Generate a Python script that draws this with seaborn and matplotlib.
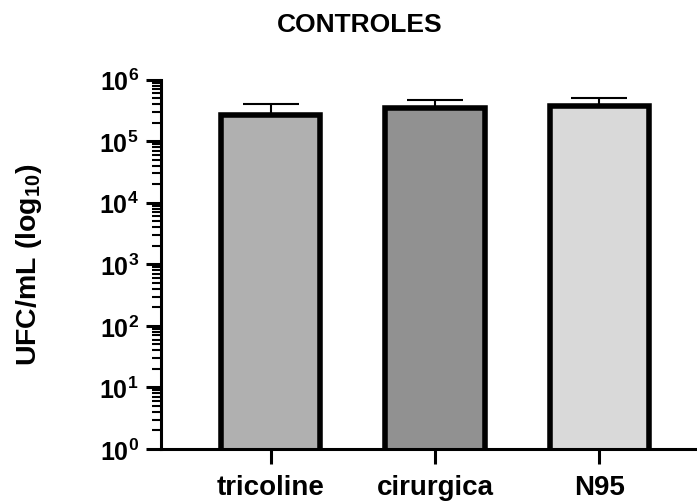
import matplotlib
matplotlib.use("Agg")
import matplotlib.pyplot as plt
import seaborn as sns
import numpy as np
from matplotlib.ticker import LogLocator, FixedLocator, NullFormatter

categories = ["tricoline", "cirurgica", "N95"]
means = [2.67e5, 3.53e5, 3.67e5]
errors_upper = [1.36e5, 1.15e5, 1.38e5]
bar_colors = ["#b0b0b0", "#919191", "#d9d9d9"]
y_ticks = [1e0, 1e1, 1e2, 1e3, 1e4, 1e5, 1e6]
y_tick_labels = ["$10^{0}$", "$10^{1}$", "$10^{2}$", "$10^{3}$", "$10^{4}$", "$10^{5}$", "$10^{6}$"]
title = "CONTROLES"
ylabel = "UFC/mL (log$_{10}$)"

sns.set_theme(style="ticks")
plt.rcParams["font.family"] = ["Liberation Sans", "DejaVu Sans"]
plt.rcParams["font.weight"] = "bold"
plt.rcParams["mathtext.fontset"] = "custom"
plt.rcParams["mathtext.rm"] = "Liberation Sans:bold"
plt.rcParams["mathtext.it"] = "Liberation Sans:bold"
plt.rcParams["mathtext.bf"] = "Liberation Sans:bold"

W, H = 697, 502
fig = plt.figure(figsize=(W / 100, H / 100), dpi=100)
ax = fig.add_axes([161 / W, 1 - 450 / H, 1 - 161 / W, (450 - 80.7) / H])

sns.barplot(x=categories, y=means, hue=categories, palette=bar_colors,
            width=0.605, edgecolor="black", linewidth=4, saturation=1,
            legend=False, errorbar=None, ax=ax)

eb = ax.errorbar(x=np.arange(len(categories)), y=means,
                 yerr=[[0] * len(means), errors_upper], fmt="none",
                 ecolor="black", elinewidth=1.5, capsize=20, capthick=1.5, zorder=5)
eb[1][0].set_visible(False)

ax.set_yscale("log")
ax.set_ylim(1, 1e6)
ax.set_xlim(-0.666, 2.593)
ax.yaxis.set_major_locator(FixedLocator(y_ticks))
ax.set_yticklabels(y_tick_labels)
ax.yaxis.set_minor_locator(LogLocator(base=10, subs=np.arange(2, 10), numticks=20))
ax.yaxis.set_minor_formatter(NullFormatter())

for s in ["top", "right"]:
    ax.spines[s].set_visible(False)
for s in ["left", "bottom"]:
    ax.spines[s].set_linewidth(2.2)
    ax.spines[s].set_color("black")

ax.tick_params(axis="y", which="major", length=11, width=2.2, color="black",
               labelsize=18, pad=5, labelcolor="black")
ax.tick_params(axis="y", which="minor", length=6.5, width=1.5, color="black")
ax.tick_params(axis="x", which="major", length=11, width=2.2, color="black",
               labelsize=20, pad=7, labelcolor="black")
for lab in ax.get_xticklabels() + ax.get_yticklabels():
    lab.set_fontweight("bold")

ax.set_xlabel("")
ax.set_ylabel("")
fig.text(29 / W, 1 - 265 / H, ylabel, rotation=90, ha="center", va="center",
         fontsize=20.5, fontweight="bold", color="black")
fig.text(360 / W, 1 - 32 / H, title, ha="center", va="baseline",
         fontsize=19, fontweight="bold", color="black")

fig.savefig("out.png", dpi=100)
